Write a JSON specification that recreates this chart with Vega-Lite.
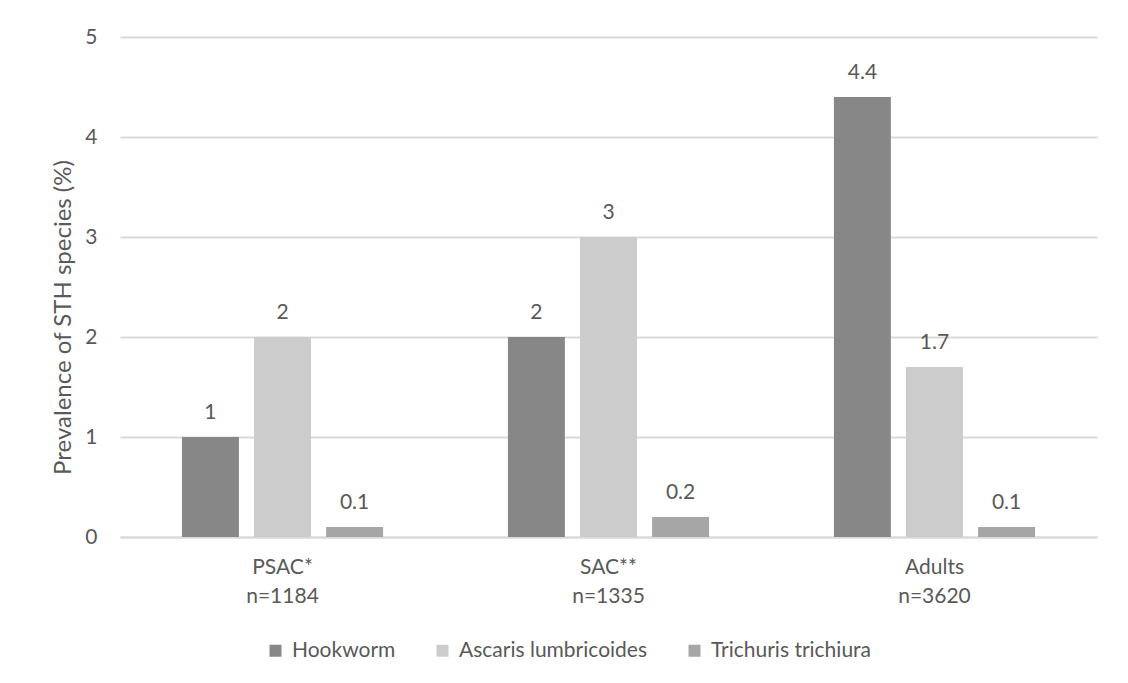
{
  "$schema": "https://vega.github.io/schema/vega-lite/v6.json",
  "autosize": {"type": "none"},
  "padding": {"left": 120, "top": 37, "right": 31, "bottom": 146},
  "width": 977,
  "height": 500,
  "background": "white",
  "config": {
    "font": "Lato",
    "view": {"stroke": null},
    "axis": {"labelColor": "#595959", "titleColor": "#595959", "labelFont": "Lato", "titleFont": "Lato"},
    "legend": {"labelColor": "#595959", "labelFont": "Lato"}
  },
  "data": {
    "values": [
      {"group": "PSAC*|n=1184", "species": "Hookworm", "value": 1},
      {"group": "PSAC*|n=1184", "species": "Ascaris lumbricoides", "value": 2},
      {"group": "PSAC*|n=1184", "species": "Trichuris trichiura", "value": 0.1},
      {"group": "SAC**|n=1335", "species": "Hookworm", "value": 2},
      {"group": "SAC**|n=1335", "species": "Ascaris lumbricoides", "value": 3},
      {"group": "SAC**|n=1335", "species": "Trichuris trichiura", "value": 0.2},
      {"group": "Adults|n=3620", "species": "Hookworm", "value": 4.4},
      {"group": "Adults|n=3620", "species": "Ascaris lumbricoides", "value": 1.7},
      {"group": "Adults|n=3620", "species": "Trichuris trichiura", "value": 0.1}
    ]
  },
  "encoding": {
    "x": {
      "field": "group", "type": "nominal", "sort": null,
      "scale": {"paddingInner": 0.383, "paddingOuter": 0.19},
      "axis": {
        "title": null, "labelAngle": 0, "labelFontSize": 21, "labelLineHeight": 29,
        "labelExpr": "split(datum.label, '|')", "ticks": false, "labelPadding": 19,
        "domainColor": "#d9d9d9", "domainWidth": 2, "grid": false
      }
    },
    "xOffset": {
      "field": "species", "type": "nominal",
      "sort": ["Hookworm", "Ascaris lumbricoides", "Trichuris trichiura"],
      "scale": {"paddingInner": 0.21, "paddingOuter": 0}
    },
    "y": {
      "field": "value", "type": "quantitative",
      "scale": {"domain": [0, 5]},
      "axis": {
        "title": "Prevalence of STH species (%)", "titleFontSize": 24, "titleFontWeight": "normal",
        "titlePadding": 9, "titleLimit": 600, "titleY": 280, "values": [0, 1, 2, 3, 4, 5], "format": "d",
        "labelFontSize": 21, "labelPadding": 23, "ticks": false, "domain": false,
        "gridColor": "#d9d9d9", "gridWidth": 2
      }
    }
  },
  "layer": [
    {
      "mark": {"type": "bar"},
      "encoding": {
        "color": {
          "field": "species", "type": "nominal",
          "sort": ["Hookworm", "Ascaris lumbricoides", "Trichuris trichiura"],
          "scale": {"domain": ["Hookworm", "Ascaris lumbricoides", "Trichuris trichiura"], "range": ["#878787", "#cccccc", "#a6a6a6"]},
          "legend": {
            "title": null, "orient": "none", "direction": "horizontal",
            "legendX": 145, "legendY": 603, "symbolType": "square", "symbolSize": 144,
            "symbolStrokeWidth": 0, "labelFontSize": 21, "labelLimit": 400, "columnPadding": 36, "labelOffset": 6
          }
        }
      }
    },
    {
      "mark": {"type": "text", "baseline": "bottom", "dy": -14, "fontSize": 21, "color": "#595959"},
      "encoding": {
        "text": {"field": "value", "type": "quantitative"}
      }
    }
  ]
}
